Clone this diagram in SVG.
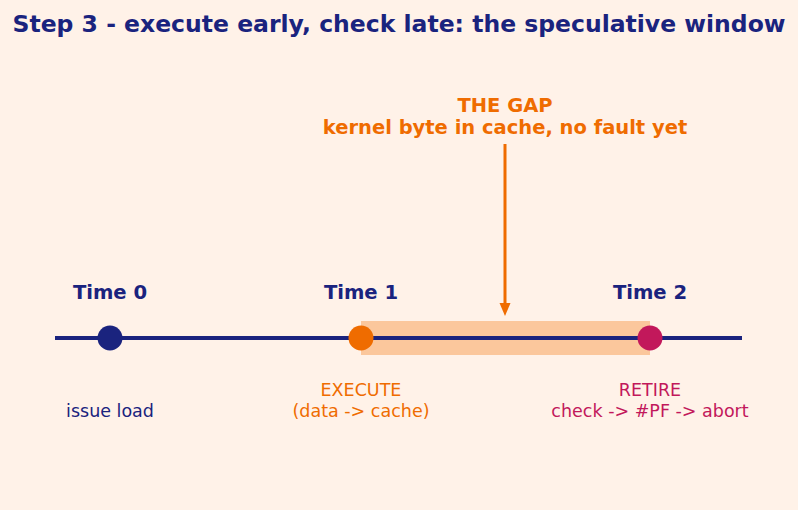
<svg xmlns="http://www.w3.org/2000/svg" width="798" height="510" viewBox="0 0 798 510">
<style>
text{font-family:"DejaVu Sans",sans-serif;text-anchor:middle}
.title{font-size:23.5px;font-weight:bold;fill:#1a237e}
.time{font-size:19.6px;font-weight:bold;fill:#1a237e}
.gap{font-size:19.5px;font-weight:bold;fill:#ef6c00}
.lab{font-size:17.5px}
</style>
<rect width="798" height="510" fill="#fff2e8"/>
<text class="title" x="399" y="32">Step 3 - execute early, check late: the speculative window</text>
<g id="window">
<rect x="361" y="321" width="289" height="34" fill="#fbc79c"/>
</g>
<g id="connectors">
<line x1="55" y1="338" x2="742" y2="338" stroke="#1a237e" stroke-width="4"/>
<line x1="505" y1="144" x2="505" y2="306" stroke="#ef6c00" stroke-width="3"/>
<path d="M499.5,303 L510.5,303 L505,316 z" fill="#ef6c00"/>
</g>
<g id="gap-label">
<text class="gap" x="505" y="112">THE GAP</text>
<text class="gap" x="505" y="134">kernel byte in cache, no fault yet</text>
</g>
<g id="t0">
<circle cx="110" cy="338" r="12.5" fill="#1a237e"/>
<text class="time" x="110" y="299">Time 0</text>
<text class="lab" x="110" y="417" fill="#1a237e">issue load</text>
</g>
<g id="t1">
<circle cx="361" cy="338" r="12.5" fill="#ef6c00"/>
<text class="time" x="361" y="299">Time 1</text>
<text class="lab" x="361" y="396" fill="#ef6c00">EXECUTE</text>
<text class="lab" x="361" y="417" fill="#ef6c00">(data -&gt; cache)</text>
</g>
<g id="t2">
<circle cx="650" cy="338" r="12.5" fill="#c2185b"/>
<text class="time" x="650" y="299">Time 2</text>
<text class="lab" x="650" y="396" fill="#c2185b">RETIRE</text>
<text class="lab" x="650" y="417" fill="#c2185b">check -&gt; #PF -&gt; abort</text>
</g>
</svg>
